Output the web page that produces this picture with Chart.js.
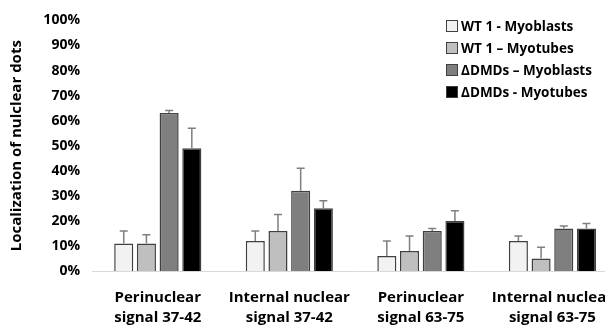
<!DOCTYPE html>
<html lang="en">
<head>
    <meta charset="UTF-8">
    <title>Nuclear dots</title>
    <style>
        * { margin: 0; padding: 0; box-sizing: border-box; }
        html, body { width: 605px; height: 326px; overflow: hidden; background: #fff; }
        .wrap { position: relative; width: 630px; height: 326px; }
        #legend { position: absolute; left: 446px; top: 18px; font-family: "Open Sans", sans-serif; font-weight: bold; font-size: 13.5px; color: #000; }
        #legend div { height: 22px; line-height: 17px; white-space: nowrap; }
        #legend span { display: inline-block; width: 12px; height: 12px; border: 1px solid #404040; margin-right: 3px; vertical-align: -1px; }
    </style>
    <script src="https://cdn.jsdelivr.net/npm/chart.js"></script>
</head>
<body>
    <div class="wrap">
        <canvas id="chart" width="630" height="326"></canvas>
        <div id="legend"></div>
    </div>

    <script>
        const categories = [
            ['Perinuclear', 'signal 37-42'],
            ['Internal nuclear', 'signal 37-42'],
            ['Perinuclear', 'signal 63-75'],
            ['Internal nuclear', 'signal 63-75']
        ];
        const seriesNames = ['WT 1 - Myoblasts', 'WT 1 \u2013 Myotubes', '\u0394DMDs \u2013 Myoblasts', '\u0394DMDs - Myotubes'];
        const wtMyoblasts = [11, 12, 6, 12];
        const wtMyotubes = [11, 16, 8, 5];
        const dmdMyoblasts = [63, 32, 16, 17];
        const dmdMyotubes = [49, 25, 20, 17];
        // upward error (SD) for each series
        const wtMyoblastsErr = [5, 4, 6, 2];
        const wtMyotubesErr = [3.5, 6.5, 6, 4.5];
        const dmdMyoblastsErr = [1, 9, 1, 1];
        const dmdMyotubesErr = [8, 3, 4, 2];
        const yTicks = [0, 10, 20, 30, 40, 50, 60, 70, 80, 90, 100];

        const fills = ['#f2f2f2', '#bfbfbf', '#7f7f7f', '#000000'];
        const values = [wtMyoblasts, wtMyotubes, dmdMyoblasts, dmdMyotubes];
        const errors = [wtMyoblastsErr, wtMyotubesErr, dmdMyoblastsErr, dmdMyotubesErr];
        const font = '"Open Sans", sans-serif';

        const errorBars = {
            id: 'errorBars',
            afterDatasetsDraw(chart) {
                const ctx = chart.ctx;
                const y = chart.scales.y;
                ctx.save();
                ctx.strokeStyle = '#7f7f7f';
                ctx.lineWidth = 1.5;
                chart.data.datasets.forEach((ds, i) => {
                    chart.getDatasetMeta(i).data.forEach((bar, j) => {
                        const top = y.getPixelForValue(ds.data[j] + ds.errors[j]);
                        ctx.beginPath();
                        ctx.moveTo(bar.x, bar.y);
                        ctx.lineTo(bar.x, top);
                        ctx.moveTo(bar.x - 4, top);
                        ctx.lineTo(bar.x + 4, top);
                        ctx.stroke();
                    });
                });
                ctx.restore();
            }
        };

        new Chart(document.getElementById('chart'), {
            type: 'bar',
            data: {
                labels: categories,
                datasets: seriesNames.map((name, i) => ({
                    label: name,
                    data: values[i],
                    errors: errors[i],
                    backgroundColor: fills[i],
                    borderColor: '#404040',
                    borderWidth: 1.5,
                    categoryPercentage: 0.69,
                    barPercentage: 0.84
                }))
            },
            options: {
                responsive: false,
                animation: false,
                layout: { padding: { top: 8, left: 4, right: 0, bottom: 0 } },
                plugins: { legend: { display: false }, tooltip: { enabled: false } },
                scales: {
                    x: {
                        afterFit: axis => { axis.height = 55; },
                        grid: { display: false, drawTicks: false },
                        border: { color: '#d9d9d9', width: 1 },
                        ticks: { color: '#000', padding: 17, maxRotation: 0, minRotation: 0, autoSkip: false, font: { family: font, weight: 'bold', size: 15, lineHeight: 1.33 } }
                    },
                    y: {
                        min: 0,
                        max: 100,
                        afterFit: axis => { axis.width = 88; },
                        afterBuildTicks: axis => { axis.ticks = yTicks.map(v => ({ value: v })); },
                        grid: { display: false, drawTicks: false },
                        border: { display: false },
                        ticks: { color: '#000', padding: 12, autoSkip: false, callback: v => v + '%', font: { family: font, weight: 'bold', size: 14 } },
                        title: { display: true, text: 'Localization of nulclear dots', color: '#000', padding: 4, font: { family: font, weight: 'bold', size: 15 } }
                    }
                }
            },
            plugins: [errorBars]
        });

        const legend = document.getElementById('legend');
        seriesNames.forEach((name, i) => {
            const row = document.createElement('div');
            const box = document.createElement('span');
            box.style.background = fills[i];
            row.appendChild(box);
            row.appendChild(document.createTextNode(name));
            legend.appendChild(row);
        });
    </script>
</body>
</html>
